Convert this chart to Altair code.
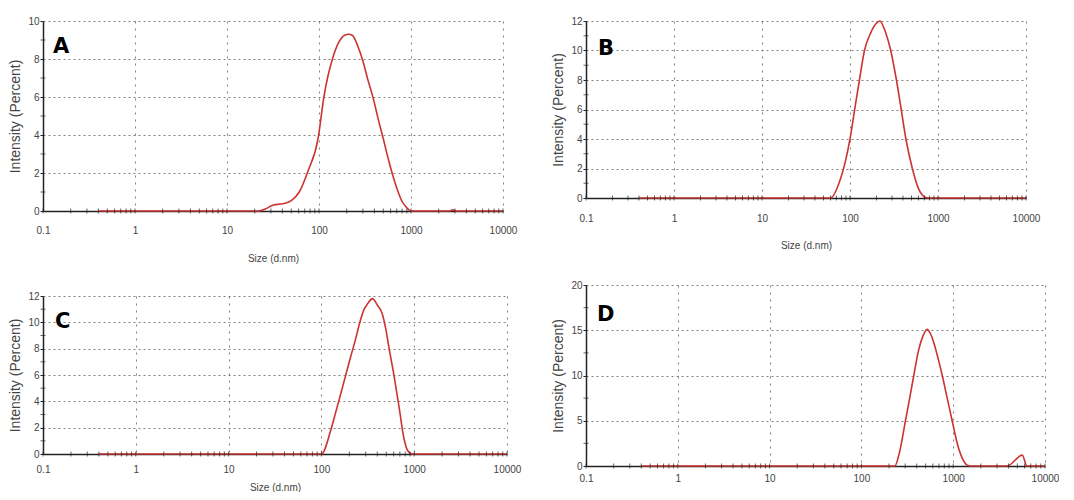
import altair as alt
import pandas as pd

# ---------------- data ----------------
sizes_A = [0.4, 22, 26, 32, 40, 50, 61, 76, 98, 113, 142, 165, 190, 210, 230, 265,
           300, 340, 390, 437, 500, 562, 640, 725, 800, 890, 1000, 2600, 2850, 3100, 10000]
int_A = [0, 0, 0.1, 0.32, 0.38, 0.55, 1.0, 2.1, 3.85, 6.0, 8.1, 8.9, 9.25, 9.3, 9.25, 8.66,
         7.9, 6.9, 5.9, 4.9, 3.8, 2.8, 1.8, 1.0, 0.5, 0.2, 0, 0, 0.06, 0, 0]

sizes_B = [0.4, 60, 78, 88, 100, 113, 128, 146, 172, 204, 218, 251, 285, 337, 382,
           432, 511, 604, 716, 777, 10000]
int_B = [0, 0, 1.3, 2.4, 4.0, 6.0, 8.0, 10.0, 11.2, 11.9, 12.0, 11.3, 10.2, 8.0, 6.0,
         4.0, 2.0, 0.6, 0.05, 0, 0]

sizes_C = [0.4, 100, 126, 143, 162, 183, 207, 235, 255, 289, 314, 355, 402, 455, 494,
           537, 608, 689, 780, 861, 960, 10000]
int_C = [0, 0, 1.8, 3.2, 4.6, 6.0, 7.4, 8.8, 9.8, 11.0, 11.4, 11.8, 11.3, 10.6, 9.5,
         8.0, 5.9, 3.5, 1.1, 0.2, 0, 0]

sizes_D = [0.4, 231, 260, 302, 340, 372, 420, 470, 520, 560, 616, 700, 760, 860, 975,
           1100, 1250, 1420, 1550, 3870, 5660, 6350, 10000]
int_D = [0, 0, 1.5, 5.0, 7.8, 10.0, 12.8, 14.4, 15.1, 14.7, 13.6, 11.5, 10.0, 7.5, 5.0,
         2.6, 0.9, 0.1, 0, 0, 1.2, 0, 0]

x_major = [0.1, 1, 10, 100, 1000, 10000]
x_minor = [0.2, 0.3, 0.4, 0.5, 0.6, 0.7, 0.8, 0.9,
           2, 3, 4, 5, 6, 7, 8, 9,
           20, 30, 40, 50, 60, 70, 80, 90,
           200, 300, 400, 500, 600, 700, 800, 900,
           2000, 3000, 4000, 5000, 6000, 7000, 8000, 9000]

y_major_A = [0, 2, 4, 6, 8, 10]
y_minor_A = [1, 3, 5, 7, 9]
y_major_BC = [0, 2, 4, 6, 8, 10, 12]
y_minor_BC = [1, 3, 5, 7, 9, 11]
y_major_D = [0, 5, 10, 15, 20]
y_minor_D = [2.5, 7.5, 12.5, 17.5]

FONT = "Liberation Sans"
TXT = "#444444"
INK = "#222222"


def panel(letter, sizes, vals, ymax, ymajor, yminor, w, h,
          lab_pad, xtitle, xtitle_pad, ldx, ldy):
    xscale = alt.Scale(type="log", domain=[0.1, 10000])
    yscale = alt.Scale(domain=[0, ymax], nice=False, zero=True)
    xaxis_kw = dict(values=x_major, format="~g", grid=True, gridDash=[2, 5],
                    gridColor="#808080", gridWidth=1, ticks=False,
                    domainColor=INK, domainWidth=1.5, labelPadding=lab_pad,
                    labelFont=FONT, labelFontSize=10, labelColor=TXT,
                    labelFlush=False, labelOverlap=False)
    if xtitle:
        xaxis_kw.update(title=xtitle, titlePadding=xtitle_pad, titleFont=FONT,
                        titleFontSize=10, titleFontWeight="normal", titleColor=TXT)
    else:
        xaxis_kw.update(title=None)
    xaxis = alt.Axis(**xaxis_kw)
    yaxis = alt.Axis(values=ymajor, tickCount=len(ymajor), grid=True, gridDash=[2, 3],
                     gridColor="#808080", gridWidth=1, tickSize=3, tickColor=INK,
                     domainColor=INK, domainWidth=1.5, labelPadding=1, labelFont=FONT,
                     labelFontSize=10, labelColor=TXT, labelOverlap=False,
                     title="Intensity (Percent)", titlePadding=5,
                     titleFont=FONT, titleFontSize=14,
                     titleFontWeight="normal", titleColor=TXT)

    df = pd.DataFrame({"size": sizes, "intensity": vals})
    xt = pd.DataFrame({"size": x_major + x_minor,
                       "intensity": [0] * (len(x_major) + len(x_minor))})
    yt = pd.DataFrame({"size": [0.1] * len(yminor), "intensity": yminor})

    enc = dict(x=alt.X("size:Q", scale=xscale, axis=xaxis),
               y=alt.Y("intensity:Q", scale=yscale, axis=yaxis))

    line = alt.Chart(df).mark_line(color="#cc3333", strokeWidth=1.6,
                                   interpolate="monotone").encode(**enc)
    xticks = alt.Chart(xt).mark_tick(orient="vertical", color=INK, size=5,
                                     thickness=1).encode(**enc)
    yticks = alt.Chart(yt).mark_tick(orient="horizontal", color=INK, size=5,
                                     thickness=1).encode(**enc)
    return alt.layer(line, xticks, yticks).properties(
        width=w, height=h,
        title=alt.TitleParams(letter, anchor="start", frame="group", orient="top",
                              baseline="alphabetic", offset=0, dx=ldx, dy=ldy,
                              font="DejaVu Sans", fontSize=21, fontWeight="bold",
                              color="#000000"),
    )


A = panel("A", sizes_A, int_A, 10, y_major_A, y_minor_A, 460, 190,
          14, "Size (d.nm)", 18, 10, 58)
B = panel("B", sizes_B, int_B, 12, y_major_BC, y_minor_BC, 440, 177,
          15, "Size (d.nm)", 17, 12, 60)
C = panel("C", sizes_C, int_C, 12, y_major_BC, y_minor_BC, 464, 158,
          10, "Size (d.nm)", 8, 12, 58)
D = panel("D", sizes_D, int_D, 20, y_major_D, y_minor_D, 459, 181,
          7, None, 0, 11, 62)

col1 = alt.vconcat(A, C, spacing=28)
col2 = alt.vconcat(B, D, spacing=30)
chart = alt.hconcat(col1, col2, spacing=30).properties(
    padding={"left": 0, "top": 8, "right": 0, "bottom": 0}
).configure_view(strokeWidth=0)

chart.save("out.html", embed_options={"renderer": "svg", "actions": False})
